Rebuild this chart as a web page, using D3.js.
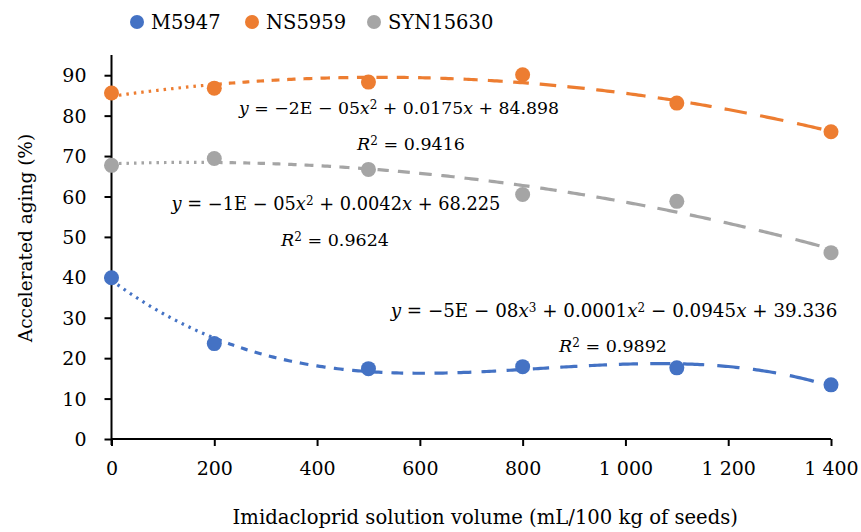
<!DOCTYPE html>
<html>
<head>
<meta charset="utf-8">
<script src="https://cdn.jsdelivr.net/npm/d3@7"></script>
<style>
  body { margin: 0; background: #fff; }
</style>
</head>
<body>
<div id="renderer"></div>
<script>
// data
var doses = [0, 200, 500, 800, 1100, 1400];
var m5947 = [39.9, 23.6, 17.4, 17.9, 17.6, 13.4];
var ns5959 = [85.6, 86.8, 88.3, 90.1, 83.1, 76.0];
var syn15630 = [67.7, 69.4, 66.7, 60.5, 58.8, 46.1];
var seriesNames = ['M5947', 'NS5959', 'SYN15630'];
var seriesColors = ['#4472C4', '#ED7D31', '#A5A5A5'];
var trendDegree = [3, 2, 2];
var yTicks = [0, 10, 20, 30, 40, 50, 60, 70, 80, 90];
var xTicks = [0, 200, 400, 600, 800, 1000, 1200, 1400];

var FONT = "'DejaVu Serif'";

var svg = d3
  .select('#renderer')
  .append('svg')
  .attr('width', 861)
  .attr('height', 532)
  .style('font-family', FONT);

var x = d3.scaleLinear().domain([0, 1400]).range([111.5, 831]);
var y = d3.scaleLinear().domain([0, 95]).range([439, 55]);

function fmt(v) {
  // thousands separated with a space
  return v >= 1000 ? Math.floor(v / 1000) + ' ' + d3.format('03d')(v % 1000) : String(v);
}

// axes
var yAxis = svg
  .append('g')
  .attr('transform', 'translate(' + x(0) + ',0)')
  .call(d3.axisLeft(y).tickValues(yTicks).tickSize(7).tickPadding(18));
yAxis.attr('font-family', null);
yAxis.select('.domain').attr('d', 'M0,' + y(95) + 'V' + (y(0) + 6)).attr('stroke-width', 2);
yAxis.selectAll('.tick line').attr('stroke-width', 2);
yAxis.selectAll('.tick text').style('font-size', '19px').style('font-family', FONT).attr('dy', '0.35em');

var xAxis = svg
  .append('g')
  .attr('transform', 'translate(0,' + y(0) + ')')
  .call(d3.axisBottom(x).tickValues(xTicks).tickSize(7).tickPadding(16).tickFormat(fmt));
xAxis.attr('font-family', null);
xAxis.select('.domain').attr('d', 'M' + x(0) + ',0H' + x(1400)).attr('stroke-width', 2);
xAxis.selectAll('.tick line').attr('stroke-width', 2);
xAxis.selectAll('.tick text').style('font-size', '19px').style('font-family', FONT);

svg
  .append('text')
  .attr('x', (x(0) + x(1400)) / 2 + 14)
  .attr('y', 524)
  .attr('text-anchor', 'middle')
  .style('font-size', '19.6px')
  .text('Imidacloprid solution volume (mL/100 kg of seeds)');

svg
  .append('text')
  .attr('transform', 'translate(32,' + 238 + ') rotate(-90)')
  .attr('text-anchor', 'middle')
  .style('font-size', '18.5px')
  .text('Accelerated aging (%)');

// least squares polynomial fit (x scaled by 1/1000)
function polyfit(xs, ys, deg) {
  var n = deg + 1;
  var A = [];
  for (var i = 0; i < n; i++) {
    A.push([]);
    for (var j = 0; j <= n; j++) A[i].push(0);
  }
  for (var k = 0; k < xs.length; k++) {
    var xv = xs[k] / 1000;
    for (var i = 0; i < n; i++) {
      for (var j = 0; j < n; j++) A[i][j] += Math.pow(xv, i + j);
      A[i][n] += ys[k] * Math.pow(xv, i);
    }
  }
  for (var c = 0; c < n; c++) {
    var p = c;
    for (var r = c + 1; r < n; r++) if (Math.abs(A[r][c]) > Math.abs(A[p][c])) p = r;
    var tmp = A[c]; A[c] = A[p]; A[p] = tmp;
    for (var r = 0; r < n; r++) {
      if (r === c) continue;
      var f = A[r][c] / A[c][c];
      for (var j = c; j <= n; j++) A[r][j] -= f * A[c][j];
    }
  }
  var coef = [];
  for (var i = 0; i < n; i++) coef.push(A[i][n] / A[i][i]);
  return function (v) {
    var s = 0;
    for (var i = 0; i < n; i++) s += coef[i] * Math.pow(v / 1000, i);
    return s;
  };
}

var allValues = [m5947, ns5959, syn15630];
var line = d3
  .line()
  .x(function (d) { return x(d[0]); })
  .y(function (d) { return y(d[1]); });

var trendGroup = svg.append('g');
var pointGroup = svg.append('g');

allValues.forEach(function (vals, si) {
  var f = polyfit(doses, vals, trendDegree[si]);
  var pts = d3.range(0, 1401, 5).map(function (v) { return [v, f(v)]; });
  var path = trendGroup
    .append('path')
    .attr('d', line(pts))
    .attr('fill', 'none')
    .attr('stroke', seriesColors[si])
    .attr('stroke-width', 3.2);

  // dash pattern that grows from dots to long dashes along x
  var node = path.node();
  var L = node.getTotalLength();
  var dashes = [];
  var pos = 0;
  while (pos < L) {
    var px = x.invert(node.getPointAtLength(pos).x);
    var dash, gap;
    if (px < 200) {
      dash = 2.5; gap = 5;
    } else {
      var t = (px - 200) / 1200;
      dash = 6 + 20 * t; gap = 7 + 8 * t;
    }
    dashes.push(dash, gap);
    pos += dash + gap;
  }
  path.attr('stroke-dasharray', dashes.join(' '));

  pointGroup
    .selectAll('circle.s' + si)
    .data(vals)
    .enter()
    .append('circle')
    .attr('class', 's' + si)
    .attr('cx', function (d, i) { return x(doses[i]); })
    .attr('cy', function (d) { return y(d); })
    .attr('r', 7.5)
    .attr('fill', seriesColors[si]);
});

// legend
var legendX = [137, 252, 374];
seriesNames.forEach(function (name, i) {
  svg
    .append('circle')
    .attr('cx', legendX[i])
    .attr('cy', 22)
    .attr('r', 7)
    .attr('fill', seriesColors[i]);
  svg
    .append('text')
    .attr('x', legendX[i] + 14)
    .attr('y', 29)
    .style('font-size', '19.5px')
    .text(name);
});

// trendline equations
function equation(cx, cy, size, parts) {
  var t = svg
    .append('text')
    .attr('x', cx)
    .attr('y', cy)
    .attr('text-anchor', 'middle')
    .style('font-size', size + 'px');
  parts.forEach(function (p) {
    var ts = t.append('tspan').text(p[0]);
    if (p[1] === 'i') ts.style('font-style', 'italic');
    if (p[1] === 's') ts.attr('baseline-shift', '45%').style('font-size', Math.round(size * 0.68) + 'px');
  });
}

equation(399, 114, 17.3, [['y', 'i'], [' = \u22122E \u2212 05'], ['x', 'i'], ['2', 's'], [' + 0.0175'], ['x', 'i'], [' + 84.898']]);
equation(411, 150, 17.5, [['R', 'i'], ['2', 's'], [' = 0.9416']]);
equation(336, 210, 17.8, [['y', 'i'], [' = \u22121E \u2212 05'], ['x', 'i'], ['2', 's'], [' + 0.0042'], ['x', 'i'], [' + 68.225']]);
equation(335, 246, 17.5, [['R', 'i'], ['2', 's'], [' = 0.9624']]);
equation(614, 317, 18.3, [['y', 'i'], [' = \u22125E \u2212 08'], ['x', 'i'], ['3', 's'], [' + 0.0001'], ['x', 'i'], ['2', 's'], [' \u2212 0.0945'], ['x', 'i'], [' + 39.336']]);
equation(613, 352, 17.5, [['R', 'i'], ['2', 's'], [' = 0.9892']]);
</script>
</body>
</html>
